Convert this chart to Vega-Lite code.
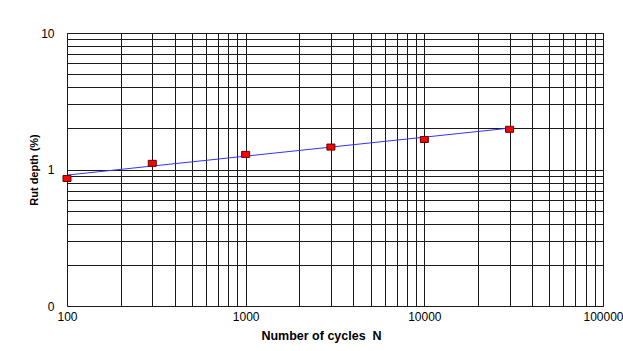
{
  "$schema": "https://vega.github.io/schema/vega-lite/v6.json",
  "autosize": "none",
  "width": 536,
  "height": 273,
  "padding": {"left": 67, "top": 33, "right": 20, "bottom": 45},
  "background": "white",
  "config": {
    "view": {"stroke": "#808080", "strokeWidth": 1},
    "font": "Liberation Sans"
  },
  "datasets": {
    "pts": [
      {"N": 100, "rut": 0.86},
      {"N": 300, "rut": 1.11},
      {"N": 1000, "rut": 1.29},
      {"N": 3000, "rut": 1.46},
      {"N": 10000, "rut": 1.66},
      {"N": 30000, "rut": 1.97}
    ],
    "trend": [
      {"N": 100, "rut": 0.91},
      {"N": 30000, "rut": 2.01}
    ]
  },
  "layer": [
    {
      "data": {"name": "trend"},
      "mark": {"type": "line", "color": "#3333ff", "strokeWidth": 1, "clip": true},
      "encoding": {
        "x": {
          "field": "N", "type": "quantitative",
          "scale": {"type": "log", "domain": [100, 100000], "nice": false},
          "axis": {
            "title": "Number of cycles\u00a0\u00a0N",
            "titleFont": "Liberation Sans", "titleFontSize": 12.5, "titleFontWeight": "bold", "titleColor": "black",
            "titlePadding": 7, "titleX": 254,
            "values": [100,200,300,400,500,600,700,800,900,1000,2000,3000,4000,5000,6000,7000,8000,9000,10000,20000,30000,40000,50000,60000,70000,80000,90000,100000],
            "grid": true, "gridColor": "#1a1a1a", "gridOpacity": 1, "gridWidth": 1,
            "ticks": false, "domain": false,
            "labelFontSize": 12, "labelColor": "black", "labelPadding": 5,
            "labelFlush": false, "labelOverlap": false,
            "labelExpr": "indexof([100, 1000, 10000, 100000], datum.value) >= 0 ? format(datum.value, 'd') : ''"
          }
        },
        "y": {
          "field": "rut", "type": "quantitative",
          "scale": {"type": "log", "domain": [0.1, 10], "nice": false},
          "axis": {
            "title": "Rut depth (%)",
            "titleFont": "Liberation Sans", "titleFontSize": 11, "titleFontWeight": "bold", "titleColor": "black",
            "titlePadding": 1,
            "values": [0.1,0.2,0.3,0.4,0.5,0.6,0.7,0.8,0.9,1,2,3,4,5,6,7,8,9,10],
            "grid": true, "gridColor": "#1a1a1a", "gridOpacity": 1, "gridWidth": 1,
            "ticks": false, "domain": false,
            "labelFontSize": 12, "labelColor": "black", "labelPadding": 13,
            "labelOverlap": false, "labelFlush": false,
            "labelExpr": "datum.value == 0.1 ? '0' : (datum.value == 1 ? '1' : (datum.value == 10 ? '10' : ''))"
          }
        }
      }
    },
    {
      "data": {"name": "pts"},
      "mark": {
        "type": "point", "filled": true, "color": "#ff0000",
        "stroke": "#5a0000", "strokeWidth": 1, "opacity": 1,
        "shape": "M-1,-0.75L1,-0.75L1,0.75L-1,0.75Z", "size": 64, "clip": false
      },
      "encoding": {
        "x": {"field": "N", "type": "quantitative"},
        "y": {"field": "rut", "type": "quantitative"}
      }
    }
  ]
}
